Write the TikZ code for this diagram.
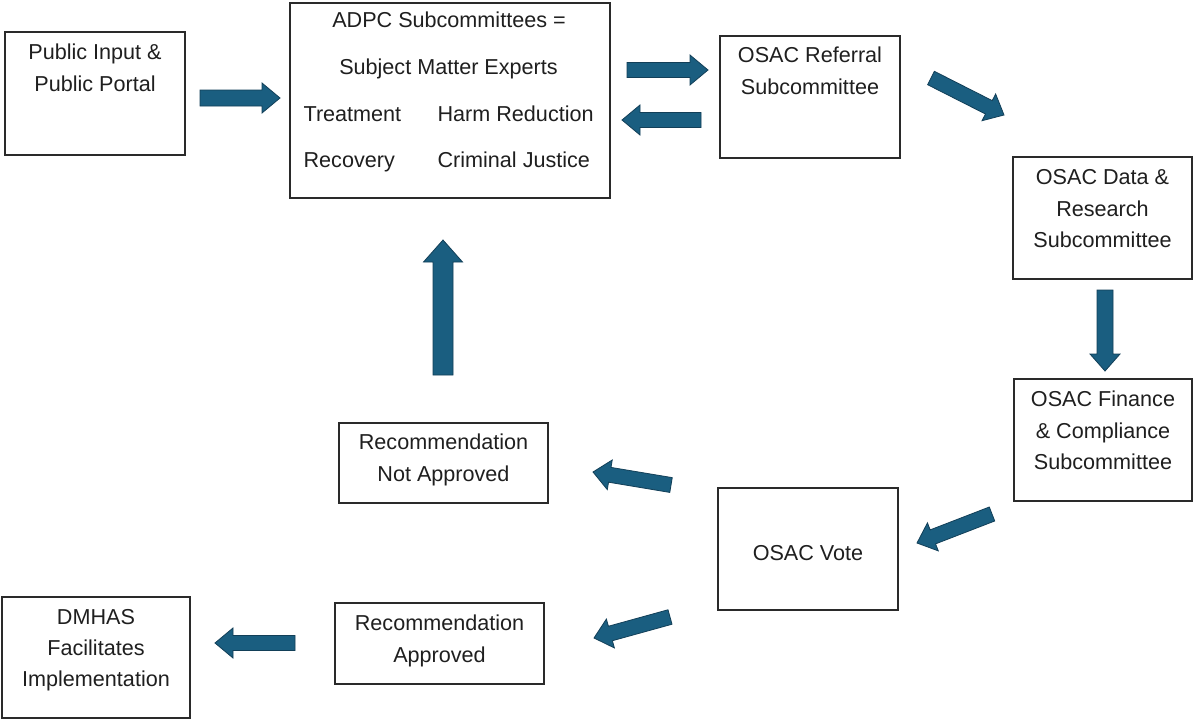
\documentclass[tikz,border=0pt]{standalone}
\usepackage{fontspec}
\setmainfont{Liberation Sans}
\usetikzlibrary{calc}
\definecolor{arrfill}{HTML}{1A5E80}
\definecolor{arredge}{HTML}{123F58}
\definecolor{boxedge}{HTML}{2A2A2A}
% #1 start, #2 end, #3 shaft width, #4 head width, #5 head length
\newcommand\blockarrow[5]{%
  \coordinate (tmpC) at ($(#2)!#5pt!(#1)$);
  \draw[barrow]
    ($(#1)!#3*0.5pt!90:(#2)$) --
    ($(tmpC)!#3*0.5pt!90:(#2)$) --
    ($(tmpC)!#4*0.5pt!90:(#2)$) --
    (#2) --
    ($(tmpC)!#4*0.5pt!-90:(#2)$) --
    ($(tmpC)!#3*0.5pt!-90:(#2)$) --
    ($(#1)!#3*0.5pt!-90:(#2)$) -- cycle;
}
\begin{document}
\begin{tikzpicture}[x=1pt,y=-1pt,
  box/.style={draw=boxedge, line width=1.2pt, fill=white, inner sep=0pt, rectangle},
  txt/.style={anchor=base, inner sep=0pt, font=\fontsize{21.6}{26}\selectfont, text=black!88},
  ltxt/.style={txt, anchor=base west},
  barrow/.style={draw=arredge, fill=arrfill, line width=0.8pt, line join=miter}]
\useasboundingbox (0,0) rectangle (1193,721);
\fill[white] (0,0) rectangle (1193,721);

% boxes
\node[box, minimum width=180pt, minimum height=123pt] (pub) at (95,93.5) {};
\node[box, minimum width=320pt, minimum height=195pt] (adpc) at (450,100.5) {};
\node[box, minimum width=180pt, minimum height=122pt] (ref) at (810,97) {};
\node[box, minimum width=179pt, minimum height=122pt] (data) at (1102.5,218) {};
\node[box, minimum width=178pt, minimum height=122pt] (fin) at (1103,440) {};
\node[box, minimum width=180pt, minimum height=122pt] (vote) at (808,549) {};
\node[box, minimum width=209pt, minimum height=80pt] (nap) at (443.5,463) {};
\node[box, minimum width=209pt, minimum height=81pt] (ap) at (439.5,643.5) {};
\node[box, minimum width=188pt, minimum height=121pt] (dm) at (96,657.5) {};

% texts
\node[txt] (pubt1) at ($(pub.north)+(0,28)$) {Public Input \&};
\node[txt] (pubt2) at ($(pub.north)+(0,60)$) {Public Portal};

\node[txt] (adt1) at ($(adpc.north)+(-1,25)$) {ADPC Subcommittees =};
\node[txt] (adt2) at ($(adpc.north)+(-1.5,72)$) {Subject Matter Experts};
\node[ltxt] (adt3) at ($(adpc.north west)+(14,119)$) {Treatment};
\node[ltxt] (adt4) at ($(adpc.north west)+(148,119)$) {Harm Reduction};
\node[ltxt] (adt5) at ($(adpc.north west)+(14,165)$) {Recovery};
\node[ltxt] (adt6) at ($(adpc.north west)+(148,165)$) {Criminal Justice};

\node[txt] (reft1) at ($(ref.north)+(0,27)$) {OSAC Referral};
\node[txt] (reft2) at ($(ref.north)+(0,59)$) {Subcommittee};

\node[txt] (datat1) at ($(data.north)+(0,28)$) {OSAC Data \&};
\node[txt] (datat2) at ($(data.north)+(0,60)$) {Research};
\node[txt] (datat3) at ($(data.north)+(0,91)$) {Subcommittee};

\node[txt] (fint1) at ($(fin.north)+(0,28)$) {OSAC Finance};
\node[txt] (fint2) at ($(fin.north)+(0,60)$) {\& Compliance};
\node[txt] (fint3) at ($(fin.north)+(0,91)$) {Subcommittee};

\node[txt] (votet) at ($(vote.north)+(0,73)$) {OSAC Vote};

\node[txt] (napt1) at ($(nap.north)+(0,27)$) {Recommendation};
\node[txt] (napt2) at ($(nap.north)+(0,59)$) {Not Approved};

\node[txt] (apt1) at ($(ap.north)+(0,28)$) {Recommendation};
\node[txt] (apt2) at ($(ap.north)+(0,60)$) {Approved};

\node[txt] (dmt1) at ($(dm.north)+(0,28)$) {DMHAS};
\node[txt] (dmt2) at ($(dm.north)+(0,59)$) {Facilitates};
\node[txt] (dmt3) at ($(dm.north)+(0,90)$) {Implementation};

% arrow end points
\coordinate (a1s) at (200,98);   \coordinate (a1e) at (280,98);
\coordinate (a2s) at (627,70);   \coordinate (a2e) at (708,70);
\coordinate (a3s) at (701,120);  \coordinate (a3e) at (622,120);
\coordinate (a4s) at (931,78);   \coordinate (a4e) at (1004,115);
\coordinate (a5s) at (1105,290); \coordinate (a5e) at (1105,371);
\coordinate (a6s) at (992,514);  \coordinate (a6e) at (917,543);
\coordinate (a7s) at (671,485);  \coordinate (a7e) at (593,472);
\coordinate (a8s) at (670,617);  \coordinate (a8e) at (594,638);
\coordinate (a9s) at (295,643);  \coordinate (a9e) at (215,643);
\coordinate (a10s) at (443,375); \coordinate (a10e) at (443,240);

\blockarrow{a1s}{a1e}{16}{30}{18}
\blockarrow{a2s}{a2e}{15}{30}{18}
\blockarrow{a3s}{a3e}{15}{30}{18}
\blockarrow{a4s}{a4e}{15}{30}{17}
\blockarrow{a5s}{a5e}{16}{30}{17}
\blockarrow{a6s}{a6e}{15}{30}{17}
\blockarrow{a7s}{a7e}{15}{30}{17}
\blockarrow{a8s}{a8e}{15}{30}{17}
\blockarrow{a9s}{a9e}{15}{30}{18}
\blockarrow{a10s}{a10e}{20}{39}{22}
\end{tikzpicture}
\end{document}
